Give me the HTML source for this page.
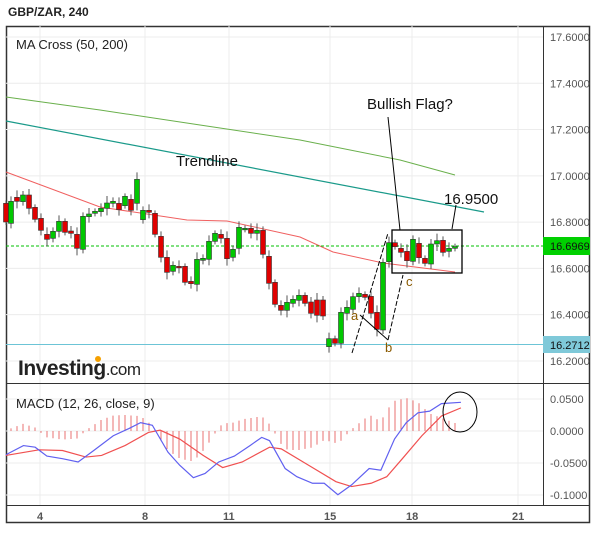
<!DOCTYPE html>
<html><head><meta charset="utf-8"><style>
body{margin:0;background:#fff;width:605px;height:529px;overflow:hidden;font-family:"Liberation Sans",sans-serif}
</style></head><body>
<svg id="s" width="605" height="529" xmlns="http://www.w3.org/2000/svg" font-family="Liberation Sans, sans-serif">
<text x="8" y="16" font-size="12" font-weight="bold" fill="#222">GBP/ZAR, 240</text>
<rect x="6.5" y="26.5" width="583" height="496" fill="none" stroke="#333" stroke-width="1.5"/>
<g id="grid" stroke="#ececec" stroke-width="1"></g>
<line x1="543.5" y1="26" x2="543.5" y2="505" stroke="#333"/>
<line x1="6" y1="383.5" x2="590" y2="383.5" stroke="#333"/>
<line x1="6" y1="505.5" x2="590" y2="505.5" stroke="#333"/>
<g id="main"></g>
<text x="16" y="49" font-size="13" fill="#222">MA Cross (50, 200)</text>
<text x="16" y="408" font-size="13" fill="#222">MACD (12, 26, close, 9)</text>
<text x="176" y="166" font-size="15" fill="#111">Trendline</text>
<text x="367" y="109" font-size="15" fill="#111">Bullish Flag?</text>
<text x="444" y="204" font-size="15" fill="#111">16.9500</text>
<text x="351" y="320" font-size="13" fill="#8a5a00">a</text>
<text x="385" y="352" font-size="13" fill="#8a5a00">b</text>
<text x="406" y="286" font-size="13" fill="#8a5a00">c</text>
<text x="18" y="375" font-size="21" font-weight="bold" fill="#222" letter-spacing="-0.5">Investing<tspan font-weight="normal" font-size="17">.com</tspan></text>
<circle cx="98" cy="359" r="3" fill="#f5a000"/>
<rect x="543" y="237" width="47" height="18" fill="#00d000"/>
<text x="550" y="250" font-size="11" fill="#111">16.6969</text>
<rect x="543" y="336" width="47" height="17" fill="#7fc9d9"/>
<text x="550" y="349" font-size="11" fill="#111">16.2712</text>
<ellipse cx="460" cy="412" rx="17" ry="20" fill="none" stroke="#000"/>
</svg>
<script>
var s=document.getElementById('main'),g=document.getElementById('grid'),NS='http://www.w3.org/2000/svg';
function el(p,t,a){var e=document.createElementNS(NS,t);for(var k in a)e.setAttribute(k,a[k]);p.appendChild(e);return e;}
function txt(x,y,t,o){var e=el(s,'text',Object.assign({x:x,y:y,'font-size':11,fill:'#555'},o||{}));e.textContent=t;}
var py=function(p){return 37+(17.6-p)*231.4};
[17.6,17.4,17.2,17.0,16.8,16.6,16.4,16.2].forEach(function(p){var y=py(p);el(g,'line',{x1:6,x2:543,y1:y,y2:y});txt(550,y+4,p.toFixed(4));});
var my=function(v){return 431-v*640};
[0.05,0,-0.05,-0.1].forEach(function(v){var y=my(v);el(g,'line',{x1:6,x2:543,y1:y,y2:y});txt(550,y+4,v.toFixed(4));});
[[40,'4'],[145,'8'],[229,'11'],[330,'15'],[412,'18'],[518,'21']].forEach(function(d){el(g,'line',{x1:d[0],x2:d[0],y1:26,y2:505});txt(d[0]-(d[1].length*3),520,d[1],{'font-weight':'bold'});});
el(s,'polyline',{points:'6,97 100,110 200,125 300,140 400,160 455,175',fill:'none',stroke:'#6ab04c','stroke-width':1});
el(s,'line',{x1:6,y1:121,x2:484,y2:212,stroke:'#1a9a8a','stroke-width':1.2});
el(s,'polyline',{points:'6,172 100,207 187,220 227,221 300,237 333,252 383,263 455,272',fill:'none',stroke:'#f06060','stroke-width':1});
el(s,'line',{x1:6,y1:344.5,x2:543,y2:344.5,stroke:'#6cc4d6','stroke-width':1});
el(s,'line',{x1:6,y1:246,x2:543,y2:246,stroke:'#00c000','stroke-width':1,'stroke-dasharray':'3,2'});
var c1=[[6,130,186,0],[11,124,190,1],[17,112,124,0],[23,105,125,1],[29,105,145,0],[35,142,178,0],[41,175,211,0],[47,223,238,0],[53,214,235,1],[59,184,214,1],[65,184,217,0],[71,213,220,0],[77,223,265,0],[83,169,268,1],[89,162,170,1],[95,154,160,1],[101,145,155,1],[107,129,145,1],[113,124,130,1],[119,130,149,0],[125,109,137,1],[131,118,151,0],[137,58,130,1],[143,151,179,1],[149,151,157,0],[155,160,223,0],[161,229,292,0],[167,292,337,0],[173,316,334,1],[179,319,322,0],[185,319,367,0],[191,364,371,0],[197,298,373,1],[203,295,301,1],[209,244,298,1],[215,220,244,1],[221,223,235,0],[227,235,296,0],[233,268,292,1],[239,202,265,1],[245,205,208,1],[251,205,220,0],[257,211,220,1],[263,211,283,0],[269,289,370,0],[275,367,433,0],[281,436,451,0],[287,427,451,1],[293,418,430,1],[299,406,421,1]];
var c2=[[305,286,310,0],[311,306,340,0],[317,300,346,0],[323,300,348,0],[329,416,440,1],[335,416,430,0],[341,337,430,1],[347,322,340,1],[353,290,328,1],[359,280,290,1],[365,283,292,0],[371,289,340,0],[377,337,388,0],[383,187,390,1],[389,128,185,1],[395,128,140,0],[401,145,157,0],[407,154,182,0],[413,118,184,1],[419,130,173,0],[425,175,190,0],[431,132,192,1],[437,122,132,1],[443,121,157,0],[449,145,154,1],[455,140,145,1]];
var C=[];c1.forEach(function(c){C.push([c[0],160+c[1]/3,160+c[2]/3,c[3]])});c2.forEach(function(c){C.push([c[0],200+c[1]/3,200+c[2]/3,c[3]])});
C.forEach(function(c,i){var w=3+(i*7%5);el(s,'line',{x1:c[0],x2:c[0],y1:c[1]-w,y2:c[2]+w,stroke:'#555','stroke-width':1});
el(s,'rect',{x:c[0]-2.5,y:c[1],width:5,height:Math.max(1.5,c[2]-c[1]),fill:c[3]?'#00c800':'#e00000',stroke:'#333','stroke-width':0.6});});
var L=[[388,117,400,230],[456,205,452,229],[360,315,388,340],[352,353,388,233],[388,340,403,275]];
L.forEach(function(l,i){el(s,'line',{x1:l[0],y1:l[1],x2:l[2],y2:l[3],stroke:'#000','stroke-width':1,'stroke-dasharray':(i>2?'5,2':'')});});
el(s,'rect',{x:392,y:230,width:70,height:43,fill:'none',stroke:'#000','stroke-width':1.3});
function conv(a){return a.map(function(p){return [p[0]/2.56,380+p[1]/3.05]});}
var B=conv([[15,228],[60,200],[90,205],[120,232],[160,240],[200,250],[240,215],[290,170],[330,148],[360,130],[390,138],[430,220],[460,260],[495,298],[525,285],[560,250],[600,232],[640,200],[670,175],[690,185],[730,270],[760,295],[800,315],[830,315],[865,350],[900,320],[945,270],[975,275],[1010,180],[1040,130],[1070,100],[1100,95],[1130,72],[1180,68]]);
var R=conv([[15,230],[100,213],[160,215],[220,235],[260,230],[320,200],[380,160],[410,153],[460,180],[520,230],[570,267],[620,250],[690,205],[720,210],[790,260],[860,310],[900,325],[950,315],[990,295],[1030,240],[1080,170],[1130,110],[1180,85]]);
function at(a,x){for(var i=1;i<a.length;i++)if(a[i][0]>=x){var t=(x-a[i-1][0])/(a[i][0]-a[i-1][0]);return a[i-1][1]+t*(a[i][1]-a[i-1][1]);}return a[a.length-1][1];}
for(var x=11;x<=460;x+=6){var d=(at(R,x)-at(B,x))*1.05;el(s,'line',{x1:x,x2:x,y1:431,y2:431-d,stroke:'#e87070','stroke-width':1});}
el(s,'polyline',{points:R.join(' '),fill:'none',stroke:'#f05050','stroke-width':1.2});
el(s,'polyline',{points:B.join(' '),fill:'none',stroke:'#6060f0','stroke-width':1.2});
</script>
</body></html>
